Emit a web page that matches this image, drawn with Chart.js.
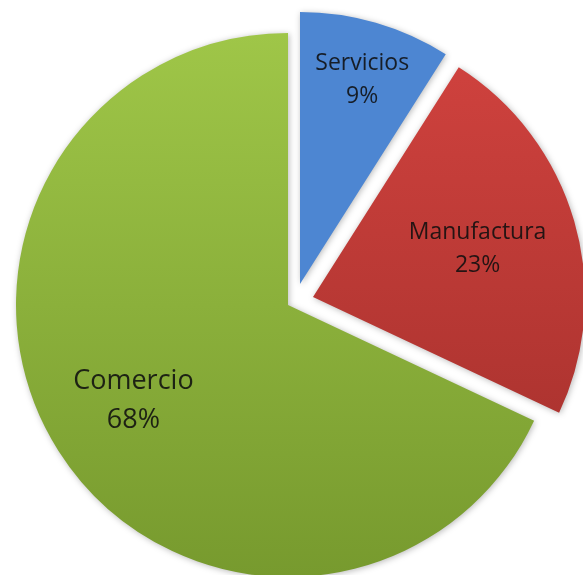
<!DOCTYPE html>
<html>
<head>
<meta charset="utf-8">
<title>Sectores</title>
<script src="https://cdn.jsdelivr.net/npm/chart.js@4.4.1/dist/chart.umd.min.js"></script>
<style>
  html, body { margin: 0; padding: 0; background: #fff; overflow: hidden; }
  canvas { display: block; }
</style>
</head>
<body>
<canvas id="pieChart" width="583" height="575"></canvas>
<script>
// Participación por sector
const sectores = ["Servicios", "Manufactura", "Comercio"];
const porcentajes = [9, 23, 68];

// colores (claro arriba, oscuro abajo)
const coloresArriba = ["#4d86d2", "#d2433f", "#9fc648"];
const coloresAbajo = ["#3867a6", "#a02e2a", "#779a2e"];

function degradado(ctx, i) {
    const chart = ctx.chart;
    const arc = chart.getDatasetMeta(0).data[0];
    if (!arc || !arc.outerRadius) return coloresArriba[i];
    const g = chart.ctx.createLinearGradient(0, arc.y - arc.outerRadius, 0, arc.y + arc.outerRadius);
    g.addColorStop(0, coloresArriba[i]);
    g.addColorStop(1, coloresAbajo[i]);
    return g;
}

// dibuja los sectores separados del centro, con una sombra suave
const separar = {
    id: 'separar',
    beforeDatasetDraw(chart, args, opts) {
        const c = chart.ctx;
        args.meta.data.forEach((arc, i) => {
            const d = opts.desplazamiento[i];
            c.save();
            c.shadowColor = 'rgba(0, 0, 0, 0.28)';
            c.shadowBlur = 6;
            c.shadowOffsetX = 1;
            c.shadowOffsetY = 1;
            c.translate(d[0], d[1]);
            arc.draw(c);
            c.restore();
        });
        return false;
    }
};

// etiquetas con nombre y porcentaje dentro de cada sector
const etiquetas = {
    id: 'etiquetas',
    afterDatasetsDraw(chart, args, opts) {
        const c = chart.ctx;
        const desp = chart.options.plugins.separar.desplazamiento;
        chart.getDatasetMeta(0).data.forEach((arc, i) => {
            const mid = (arc.startAngle + arc.endAngle) / 2;
            const r = arc.outerRadius * opts.radio[i];
            const x = arc.x + desp[i][0] + Math.cos(mid) * r + opts.ajusteX[i];
            const y = arc.y + desp[i][1] + Math.sin(mid) * r;
            const size = opts.tamano[i];
            const gap = size * 1.45;
            c.save();
            c.fillStyle = 'rgba(15, 15, 15, 0.88)';
            c.font = size + 'px "Open Sans", sans-serif';
            c.textAlign = 'center';
            c.textBaseline = 'middle';
            c.fillText(sectores[i], x, y - gap / 2);
            c.fillText(porcentajes[i] + '%', x, y + gap / 2);
            c.restore();
        });
    }
};

new Chart(document.getElementById('pieChart').getContext('2d'), {
    type: 'pie',
    data: {
        labels: sectores,
        datasets: [{
            data: porcentajes,
            backgroundColor: (ctx) => degradado(ctx, ctx.dataIndex),
            borderWidth: 0,
            clip: false
        }]
    },
    options: {
        responsive: false,
        animation: false,
        radius: 272,
        layout: { padding: { left: 0, right: 7, top: 35, bottom: 0 } },
        plugins: {
            legend: { display: false },
            tooltip: { enabled: false },
            separar: {
                desplazamiento: [[12, -21], [25, -8], [0, 0]]
            },
            etiquetas: {
                radio: [0.78, 0.63, 0.66],
                ajusteX: [3, 0, -3],
                tamano: [23, 23, 27]
            }
        }
    },
    plugins: [separar, etiquetas]
});
</script>
</body>
</html>
